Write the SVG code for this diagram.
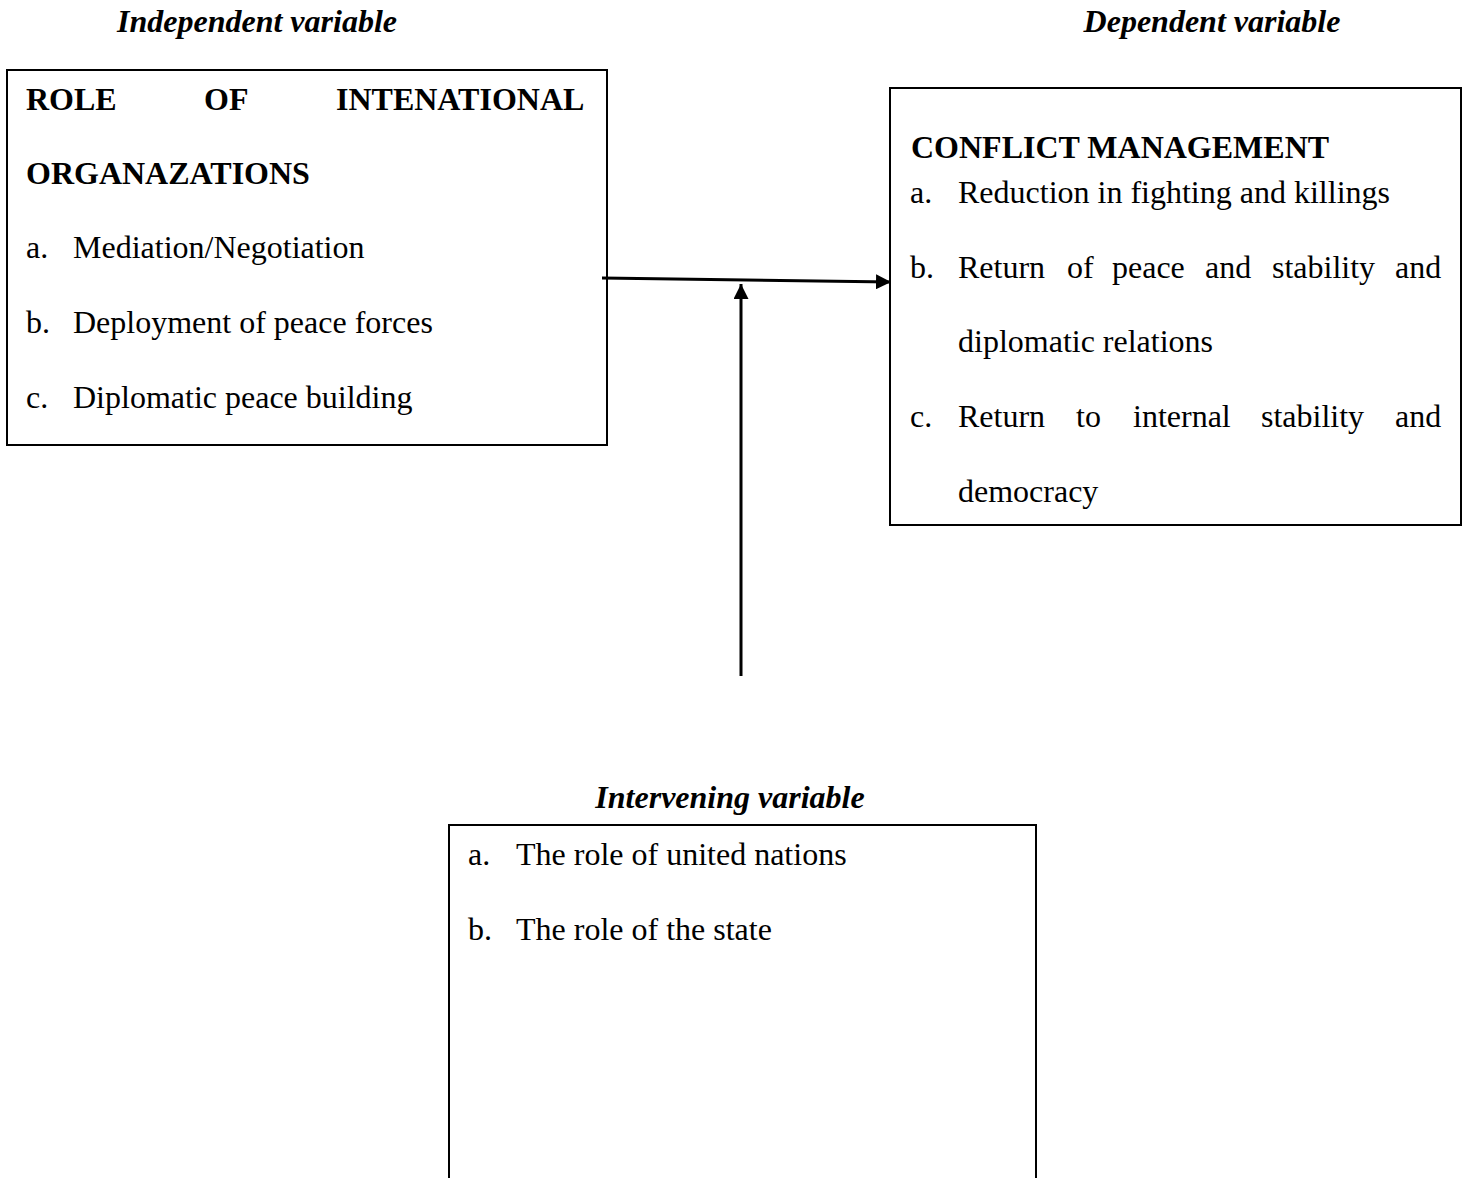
<svg xmlns="http://www.w3.org/2000/svg" width="1464" height="1178" viewBox="0 0 1464 1178">
<style>
text{font-family:"Liberation Serif","Times New Roman",serif;font-size:32px;fill:#000}
.h{font-weight:bold}
.lab{font-weight:bold;font-style:italic;text-anchor:middle}
.box{fill:#fff;stroke:#000;stroke-width:2}
.con{stroke:#000;stroke-width:3;fill:none}
</style>
<defs>
<marker id="arr" viewBox="0 0 15 15" refX="15" refY="7.5" markerWidth="15" markerHeight="15" markerUnits="userSpaceOnUse" orient="auto">
<path d="M0,0 L15,7.5 L0,15 Z" fill="#000"/>
</marker>
</defs>
<text class="lab" x="257" y="32">Independent variable</text>
<text class="lab" x="1212" y="32">Dependent variable</text>
<text class="lab" x="730" y="808">Intervening variable</text>
<g id="independent">
<rect class="box" x="7" y="70" width="600" height="375"/>
<text class="h" y="110"><tspan x="26">ROLE</tspan><tspan x="204">OF</tspan><tspan x="336">INTENATIONAL</tspan></text>
<text class="h" x="26" y="184">ORGANAZATIONS</text>
<text y="258"><tspan x="26">a.</tspan><tspan x="73">Mediation/Negotiation</tspan></text>
<text y="333"><tspan x="26">b.</tspan><tspan x="73">Deployment of peace forces</tspan></text>
<text y="408"><tspan x="26">c.</tspan><tspan x="73">Diplomatic peace building</tspan></text>
</g>
<g id="dependent">
<rect class="box" x="890" y="88" width="571" height="437"/>
<text class="h" x="911" y="158">CONFLICT MANAGEMENT</text>
<text y="203"><tspan x="910">a.</tspan><tspan x="958">Reduction in fighting and killings</tspan></text>
<text y="278"><tspan x="910">b.</tspan><tspan x="958">Return</tspan><tspan x="1067">of</tspan><tspan x="1112">peace</tspan><tspan x="1205">and</tspan><tspan x="1272">stability</tspan><tspan x="1395">and</tspan></text>
<text x="958" y="352">diplomatic relations</text>
<text y="427"><tspan x="910">c.</tspan><tspan x="958">Return</tspan><tspan x="1076">to</tspan><tspan x="1133">internal</tspan><tspan x="1261">stability</tspan><tspan x="1395">and</tspan></text>
<text x="958" y="502">democracy</text>
</g>
<g id="intervening">
<rect class="box" x="449" y="825" width="587" height="360"/>
<text y="865"><tspan x="468">a.</tspan><tspan x="516">The role of united nations</tspan></text>
<text y="940"><tspan x="468">b.</tspan><tspan x="516">The role of the state</tspan></text>
</g>
<g id="connectors">
<line class="con" x1="602" y1="278" x2="891" y2="282" marker-end="url(#arr)"/>
<line class="con" x1="741" y1="676" x2="741" y2="284" marker-end="url(#arr)"/>
</g>
</svg>
